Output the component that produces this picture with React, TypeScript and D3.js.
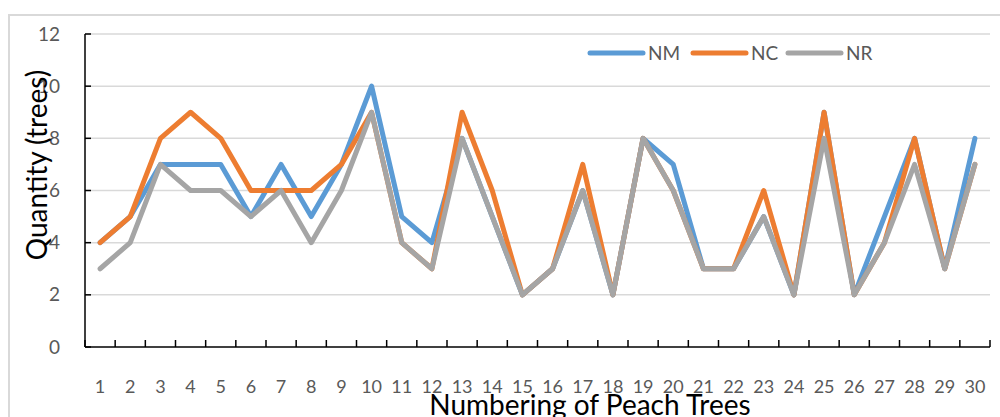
import { useEffect, useRef } from "react";
import * as d3 from "d3";

const trees = d3.range(1, 31).map(String);
const nm = [4, 5, 7, 7, 7, 5, 7, 5, 7, 10, 5, 4, 8, 5, 2, 3, 6, 2, 8, 7, 3, 3, 5, 2, 9, 2, 5, 8, 3, 8];
const nc = [4, 5, 8, 9, 8, 6, 6, 6, 7, 9, 4, 3, 9, 6, 2, 3, 7, 2, 8, 6, 3, 3, 6, 2, 9, 2, 4, 8, 3, 7];
const nr = [3, 4, 7, 6, 6, 5, 6, 4, 6, 9, 4, 3, 8, 5, 2, 3, 6, 2, 8, 6, 3, 3, 5, 2, 8, 2, 4, 7, 3, 7];
const yTicks = [0, 2, 4, 6, 8, 10, 12];

const series = [
  { name: "NM", values: nm, color: "#5B9BD5" },
  { name: "NC", values: nc, color: "#ED7D31" },
  { name: "NR", values: nr, color: "#A5A5A5" },
];

const FONT = "Lato, 'Open Sans', sans-serif";

export default function App() {
  const ref = useRef<SVGSVGElement>(null);
  useEffect(() => {
    if (!ref.current) return;
    const svg = d3.select(ref.current);
    svg.selectAll("*").remove();
    const w = 1000;
    const h = 417;

    // outer chart frame
    svg.append("rect")
      .attr("x", 9).attr("y", 15).attr("width", 1000).attr("height", 420)
      .attr("fill", "#fff").attr("stroke", "#D9D9D9").attr("stroke-width", 2);

    const x = d3.scaleBand().domain(trees).range([85, 990]).padding(0);
    const y = d3.scaleLinear().domain([0, 12]).range([347, 34]);

    // gridlines
    svg.append("g").selectAll("line").data(yTicks.slice(1)).join("line")
      .attr("x1", 85).attr("x2", 990)
      .attr("y1", (d) => y(d)).attr("y2", (d) => y(d))
      .attr("stroke", "#D9D9D9").attr("stroke-width", 1.5);

    // y axis
    svg.append("line").attr("x1", 85).attr("x2", 85).attr("y1", y(12)).attr("y2", y(0))
      .attr("stroke", "#000").attr("stroke-width", 1.5);
    svg.append("g").selectAll("line").data(yTicks).join("line")
      .attr("x1", 85).attr("x2", 91)
      .attr("y1", (d) => y(d)).attr("y2", (d) => y(d))
      .attr("stroke", "#000").attr("stroke-width", 1.5);
    svg.append("g").selectAll("text").data(yTicks).join("text")
      .attr("x", 60).attr("y", (d) => y(d)).attr("dy", "0.35em")
      .attr("text-anchor", "end")
      .attr("font-family", FONT).attr("font-size", 19).attr("fill", "#595959")
      .text((d) => d);

    // x axis
    svg.append("line").attr("x1", 85).attr("x2", 990).attr("y1", y(0)).attr("y2", y(0))
      .attr("stroke", "#000").attr("stroke-width", 1.5);
    const bounds = [...trees.map((t) => x(t)!), x(trees[trees.length - 1])! + x.bandwidth()];
    svg.append("g").selectAll("line").data(bounds).join("line")
      .attr("x1", (d) => d).attr("x2", (d) => d)
      .attr("y1", y(0)).attr("y2", y(0) - 7)
      .attr("stroke", "#000").attr("stroke-width", 1.5);
    svg.append("g").selectAll("text").data(trees).join("text")
      .attr("x", (d) => x(d)! + x.bandwidth() / 2).attr("y", 393)
      .attr("text-anchor", "middle")
      .attr("font-family", FONT).attr("font-size", 18).attr("fill", "#595959")
      .text((d) => d);

    // lines
    const line = d3.line<number>()
      .x((_, i) => x(trees[i])! + x.bandwidth() / 2)
      .y((d) => y(d));
    series.forEach((s) => {
      svg.append("path").datum(s.values)
        .attr("fill", "none").attr("stroke", s.color).attr("stroke-width", 5)
        .attr("stroke-linejoin", "round").attr("stroke-linecap", "round")
        .attr("d", line);
    });

    // axis titles
    svg.append("text")
      .attr("transform", `translate(47,165) rotate(-90)`)
      .attr("text-anchor", "middle")
      .attr("font-family", FONT).attr("font-size", 28).attr("fill", "#000")
      .text("Quantity (trees)");
    svg.append("text")
      .attr("x", 590).attr("y", 415)
      .attr("text-anchor", "middle")
      .attr("font-family", FONT).attr("font-size", 28).attr("fill", "#000")
      .text("Numbering of Peach Trees");

    // legend
    const legendX = [590, 693, 788];
    series.forEach((s, i) => {
      svg.append("line")
        .attr("x1", legendX[i]).attr("x2", legendX[i] + 53).attr("y1", 53).attr("y2", 53)
        .attr("stroke", s.color).attr("stroke-width", 5).attr("stroke-linecap", "round");
      svg.append("text")
        .attr("x", legendX[i] + 58).attr("y", 53).attr("dy", "0.35em")
        .attr("font-family", FONT).attr("font-size", 19).attr("fill", "#595959")
        .text(s.name);
    });

    svg.attr("viewBox", `0 0 ${w} ${h}`);
  }, []);
  return (
    <svg
      ref={ref}
      width={1000}
      height={417}
      style={{ position: "absolute", left: 0, top: 0, display: "block", background: "#fff" }}
    />
  );
}
